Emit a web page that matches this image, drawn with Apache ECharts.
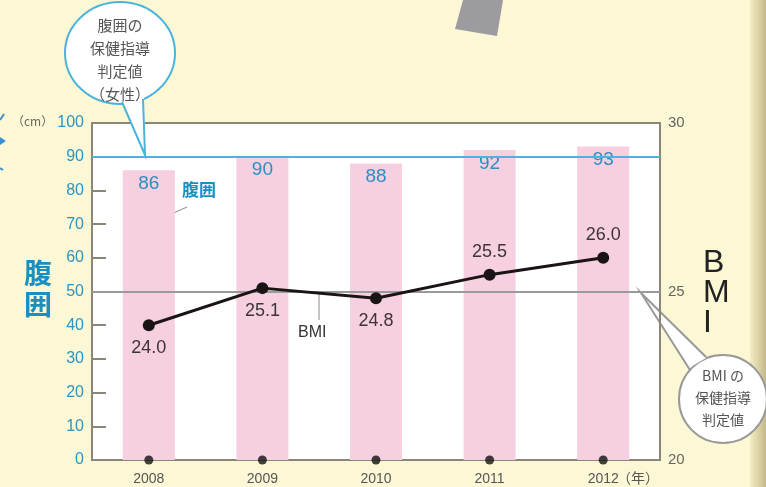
<!DOCTYPE html>
<html>
<head>
<meta charset="utf-8">
<script src="https://cdn.jsdelivr.net/npm/echarts@6/dist/echarts.min.js"></script>
<style>
  html, body { margin: 0; padding: 0; background: #fcf7d4; }
  #chart { width: 766px; height: 487px; }
</style>
</head>
<body>
<div id="chart"></div>
<script>
  // 腹囲とBMIの推移
  const years = ['2008', '2009', '2010', '2011', '2012'];
  const waist = [86, 90, 88, 92, 93];
  const bmi = [24.0, 25.1, 24.8, 25.5, 26.0];
  const waistGuide = 90;   // 腹囲の保健指導判定値（女性）
  const bmiGuide = 25;     // BMIの保健指導判定値
  const bmiLabelSide = ['bottom', 'bottom', 'bottom', 'top', 'top'];

  const numFont = '"Liberation Sans", Arial, sans-serif';
  const jpFont = '"Noto Sans CJK JP", sans-serif';
  const frame = '#8a8778';

  const chart = echarts.init(document.getElementById('chart'));

  const option = {
    backgroundColor: '#fcf7d4',
    animation: false,
    grid: {
      left: 92, right: 106, top: 123, bottom: 27,
      show: true,
      backgroundColor: '#ffffff',
      borderColor: frame,
      borderWidth: 2
    },
    xAxis: {
      type: 'category',
      data: years,
      axisLine: { lineStyle: { color: frame, width: 2 } },
      axisTick: { show: false },
      axisLabel: { color: '#555', fontSize: 14, margin: 12, fontFamily: numFont }
    },
    yAxis: [{
      type: 'value',
      min: 0, max: 100, interval: 10,
      axisLine: { show: true, lineStyle: { color: frame, width: 2 } },
      axisTick: { show: true, inside: true, length: 14, lineStyle: { color: frame, width: 2 } },
      axisLabel: { color: '#2b95c4', fontSize: 16, margin: 8, fontFamily: numFont },
      splitLine: { show: false }
    }, {
      type: 'value',
      position: 'right',
      min: 20, max: 30, interval: 5,
      axisLine: { show: true, lineStyle: { color: frame, width: 2 } },
      axisTick: { show: false },
      axisLabel: { color: '#666', fontSize: 15, margin: 8, fontFamily: numFont },
      splitLine: { show: false }
    }],
    series: [{
      name: '腹囲',
      type: 'bar',
      data: waist,
      barWidth: 52,
      silent: true,
      itemStyle: { color: '#f6cfe0' },
      label: {
        show: true, position: 'insideTop', distance: 4,
        color: '#2b8fc0', fontSize: 19, fontFamily: numFont
      },
      markLine: {
        silent: true, symbol: 'none',
        label: { show: false },
        lineStyle: { color: '#4cb3dc', width: 2, type: 'solid' },
        data: [{ yAxis: waistGuide }]
      }
    }, {
      name: 'BMI',
      type: 'line',
      yAxisIndex: 1,
      data: bmi.map((v, i) => ({
        value: v,
        label: { position: bmiLabelSide[i] }
      })),
      symbol: 'circle',
      symbolSize: 12,
      z: 5,
      lineStyle: { color: '#1a1414', width: 3 },
      itemStyle: { color: '#1a1414' },
      label: {
        show: true, distance: 8,
        color: '#3d3535', fontSize: 18, fontFamily: numFont,
        formatter: p => p.value.toFixed(1)
      },
      markLine: {
        silent: true, symbol: 'none',
        label: { show: false },
        lineStyle: { color: '#9a9a9a', width: 2, type: 'solid' },
        data: [{ yAxis: bmiGuide }]
      }
    }, {
      // 年の目盛の黒点
      type: 'scatter',
      data: years.map(() => 0),
      symbolSize: 9,
      clip: false,
      z: 10,
      silent: true,
      itemStyle: { color: '#111' }
    }],
    graphic: [
      // 右端の帯
      {
        type: 'rect', shape: { x: 750, y: 0, width: 16, height: 487 },
        style: {
          fill: new echarts.graphic.LinearGradient(0, 0, 1, 0, [
            { offset: 0, color: '#f4edc4' }, { offset: 1, color: '#c4b98a' }
          ])
        }
      },
      // 上部の灰色の図形
      {
        type: 'polygon', shape: { points: [[463, 0], [503, 0], [497, 36], [455, 29]] },
        style: { fill: '#9c9ca0' }
      },
      // 左端の青い切れ端
      {
        type: 'polygon', shape: { points: [[0, 137], [6, 141], [0, 145]] },
        style: { fill: '#3a8fd0' }
      },
      {
        type: 'line', shape: { x1: 0, y1: 120, x2: 4, y2: 114 },
        style: { stroke: '#3a8fd0', lineWidth: 2 }
      },
      {
        type: 'line', shape: { x1: 0, y1: 168, x2: 3, y2: 170 },
        style: { stroke: '#3a8fd0', lineWidth: 2 }
      },
      // 単位
      {
        type: 'text', left: 12, top: 115,
        style: { text: '（cm）', fill: '#666', font: '12px ' + jpFont }
      },
      // 左軸名
      {
        type: 'text', left: 24, top: 258,
        style: {
          text: '腹\n囲', fill: '#1a8fc0', lineHeight: 31,
          font: 'bold 28px ' + jpFont
        }
      },
      // 右軸名
      {
        type: 'text', left: 703, top: 247,
        style: {
          text: 'B\nM\nI', fill: '#222', lineHeight: 30, align: 'center',
          font: '32px ' + numFont
        }
      },
      // 年
      {
        type: 'text', left: 617, top: 471,
        style: { text: '（年）', fill: '#555', font: '14px ' + jpFont }
      },
      // 系列名の引き出し
      {
        type: 'line', shape: { x1: 158, y1: 220, x2: 187, y2: 207 },
        style: { stroke: '#888', lineWidth: 1 }
      },
      {
        type: 'text', left: 182, top: 181,
        style: { text: '腹囲', fill: '#1a8fc0', font: 'bold 17px ' + jpFont }
      },
      {
        type: 'line', shape: { x1: 319, y1: 294, x2: 319, y2: 320 },
        style: { stroke: '#888', lineWidth: 1 }
      },
      {
        type: 'text', left: 298, top: 325,
        style: { text: 'BMI', fill: '#333', font: '16px ' + numFont }
      },
      // 吹き出し（腹囲）
      {
        type: 'ellipse', shape: { cx: 120, cy: 53, rx: 55, ry: 51 },
        style: { fill: '#fff', stroke: '#4cb3dc', lineWidth: 2 }
      },
      {
        type: 'polygon', shape: { points: [[121, 100], [144, 97], [145, 155]] },
        style: { fill: '#fff' }
      },
      {
        type: 'polyline', shape: { points: [[122, 102], [145, 155], [143, 99]] },
        style: { stroke: '#4cb3dc', lineWidth: 2, fill: null }
      },
      {
        type: 'text',
        style: {
          x: 120, y: 14, text: '腹囲の\n保健指導\n判定値\n（女性）',
          align: 'center', lineHeight: 23, fill: '#555', font: '15px ' + jpFont
        }
      },
      // 吹き出し（BMI）
      {
        type: 'ellipse', shape: { cx: 723, cy: 399, rx: 44, ry: 44 },
        style: { fill: '#fff', stroke: '#999', lineWidth: 2 }
      },
      {
        type: 'polygon', shape: { points: [[689, 368], [706, 358], [641, 293]] },
        style: { fill: '#fff' }
      },
      {
        type: 'polyline', shape: { points: [[690, 370], [641, 293], [706, 357]] },
        style: { stroke: '#999', lineWidth: 2, fill: null }
      },
      {
        type: 'text',
        style: {
          x: 723, y: 365, text: 'BMI の\n保健指導\n判定値',
          align: 'center', lineHeight: 22, fill: '#555', font: '14px ' + jpFont
        }
      }
    ]
  };

  chart.setOption(option);
</script>
</body>
</html>
